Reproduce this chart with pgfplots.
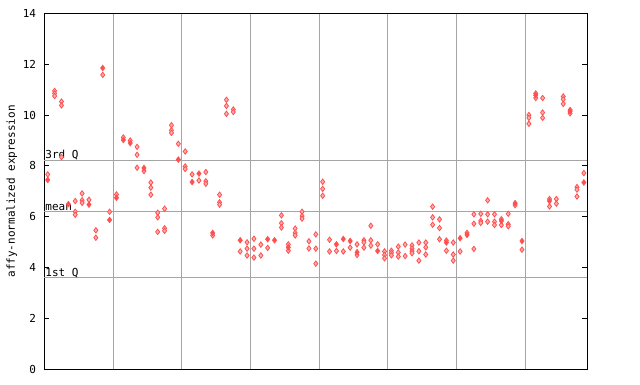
\documentclass[border=0pt]{standalone}
\usepackage{fontspec}
\setmainfont{DejaVu Sans Mono}
\usepackage{pgfplots}
\pgfplotsset{compat=1.18}
\definecolor{myred}{RGB}{255,80,80}
\definecolor{gridgray}{RGB}{165,165,165}
\begin{document}
\begin{tikzpicture}[x=1pt,y=1pt]
\useasboundingbox (-44.3,-14.5) rectangle (595.7,369.5);
\begin{axis}[
  at={(0,0)}, anchor=south west,
  scale only axis, width=543pt, height=356.2pt,
  xmin=-0.5, xmax=78.5, ymin=0, ymax=14,
  font=\fontsize{11}{13}\selectfont,
  /pgf/number format/assume math mode=true,
  axis line style={black, line width=1pt},
  xtick={9.5,19.5,29.5,39.5,49.5,59.5,69.5},
  xticklabels={},
  xmajorgrids=true,
  major x tick style={draw=none},
  grid style={gridgray, line width=1pt},
  ytick={0,2,4,6,8,10,12,14},
  tick align=inside, ytick pos=both,
  major tick length=5pt,
  y tick style={black, line width=1pt},
  yticklabel style={inner sep=0pt, xshift=-8pt, anchor=east},
  ylabel={affy-normalized expression},
  ylabel style={at={(axis description cs:-0.060,0.5)}, anchor=center, inner sep=0pt},
  clip=false,
]
\draw[gridgray, line width=1pt] (axis cs:-0.5,8.22) -- (axis cs:78.5,8.22);
\draw[gridgray, line width=1pt] (axis cs:-0.5,6.21) -- (axis cs:78.5,6.21);
\draw[gridgray, line width=1pt] (axis cs:-0.5,3.61) -- (axis cs:78.5,3.61);
\node[anchor=base west, inner sep=0pt, xshift=1pt, yshift=2pt] at (axis cs:-0.5,8.22) {3rd Q};
\node[anchor=base west, inner sep=0pt, xshift=1pt, yshift=1.5pt] at (axis cs:-0.5,6.21) {mean};
\node[anchor=base west, inner sep=0pt, xshift=1pt, yshift=1.5pt] at (axis cs:-0.5,3.61) {1st Q};
\addplot[only marks, mark=diamond*, mark size=2.7pt, mark options={draw=myred, fill=myred!45, line width=0.8pt}] coordinates {
(0,7.67)
(1,10.95) (1,10.85) (1,10.75)
(2,10.53) (2,10.38) (2,8.35)
(4,6.62) (4,6.2) (4,6.08)
(5,6.92) (5,6.65) (5,6.55)
(6,6.67)
(7,5.47) (7,5.18)
(8,11.58)
(9,6.2)
(10,6.88)
(11,9.12)
(12,9.0)
(13,8.75) (13,8.44) (13,7.93)
(14,7.8)
(15,7.35) (15,7.15) (15,6.87)
(16,6.16) (16,5.98) (16,5.41)
(17,6.32) (17,5.55) (17,5.45)
(18,9.6) (18,9.4) (18,9.3)
(19,8.87)
(20,8.57) (20,7.98) (20,7.88)
(21,7.67)
(22,7.43)
(23,7.76) (23,7.4) (23,7.3)
(24,5.27)
(25,6.87) (25,6.57) (25,6.48)
(26,10.6) (26,10.36) (26,10.05)
(27,10.22) (27,10.12)
(28,4.64)
(29,5.0) (29,4.75) (29,4.48)
(30,5.14) (30,4.75) (30,4.4)
(31,4.91) (31,4.48)
(32,4.78)
(34,6.06) (34,5.75) (34,5.58)
(35,4.92) (35,4.67)
(36,5.54) (36,5.37) (36,5.27)
(37,6.2) (37,6.03) (37,5.93)
(38,5.04) (38,4.76)
(39,5.31) (39,4.75) (39,4.16)
(40,7.38) (40,7.1) (40,6.83)
(41,5.1) (41,4.64)
(42,4.66)
(43,4.64)
(44,4.79)
(45,4.92) (45,4.5)
(46,5.08) (46,5.0) (46,4.79)
(47,5.65) (47,5.08) (47,4.87)
(48,4.92)
(49,4.64) (49,4.5) (49,4.37)
(50,4.67) (50,4.58) (50,4.49)
(51,4.83) (51,4.6) (51,4.44)
(52,4.91) (52,4.46)
(53,4.88) (53,4.75) (53,4.65) (53,4.57)
(54,4.99) (54,4.65) (54,4.28)
(55,4.99) (55,4.8) (55,4.52)
(56,6.4) (56,5.98) (56,5.69)
(57,5.9) (57,5.56) (57,5.12)
(58,5.07) (58,4.67)
(59,4.99) (59,4.52) (59,4.28)
(60,4.64)
(61,5.37)
(62,6.1) (62,5.73) (62,4.74)
(63,6.12) (63,5.84) (63,5.76)
(64,6.65) (64,6.1) (64,5.81)
(65,6.1) (65,5.81) (65,5.68)
(66,5.91) (66,5.68)
(67,6.12) (67,5.71) (67,5.63)
(68,6.46)
(69,4.71)
(70,10.0) (70,9.89) (70,9.66)
(71,10.85) (71,10.67)
(72,10.67) (72,10.1) (72,9.89)
(73,6.7) (73,6.41)
(74,6.7) (74,6.52)
(75,10.73) (75,10.62) (75,10.44)
(76,10.2) (76,10.07)
(77,7.17) (77,7.07) (77,6.8)
(78,7.72)
};
\addplot[only marks, mark=diamond*, mark size=3pt, mark options={draw=myred, fill=myred, line width=0.4pt}] coordinates {
(0,7.45) (3,6.5) (6,6.48) (8,11.85) (9,5.88) (10,6.75) (11,9.02) (12,8.9)
(14,7.92) (19,8.25) (21,7.37) (22,7.7) (24,5.37) (28,5.08) (32,5.12) (33,5.08)
(35,4.8) (42,4.92) (43,5.13) (44,5.05) (45,4.61) (48,4.66) (58,4.99) (60,5.16)
(61,5.29) (66,5.84) (68,6.54) (69,5.05) (71,10.78) (73,6.62) (76,10.15) (78,7.35)
};
\end{axis}
\end{tikzpicture}
\end{document}
